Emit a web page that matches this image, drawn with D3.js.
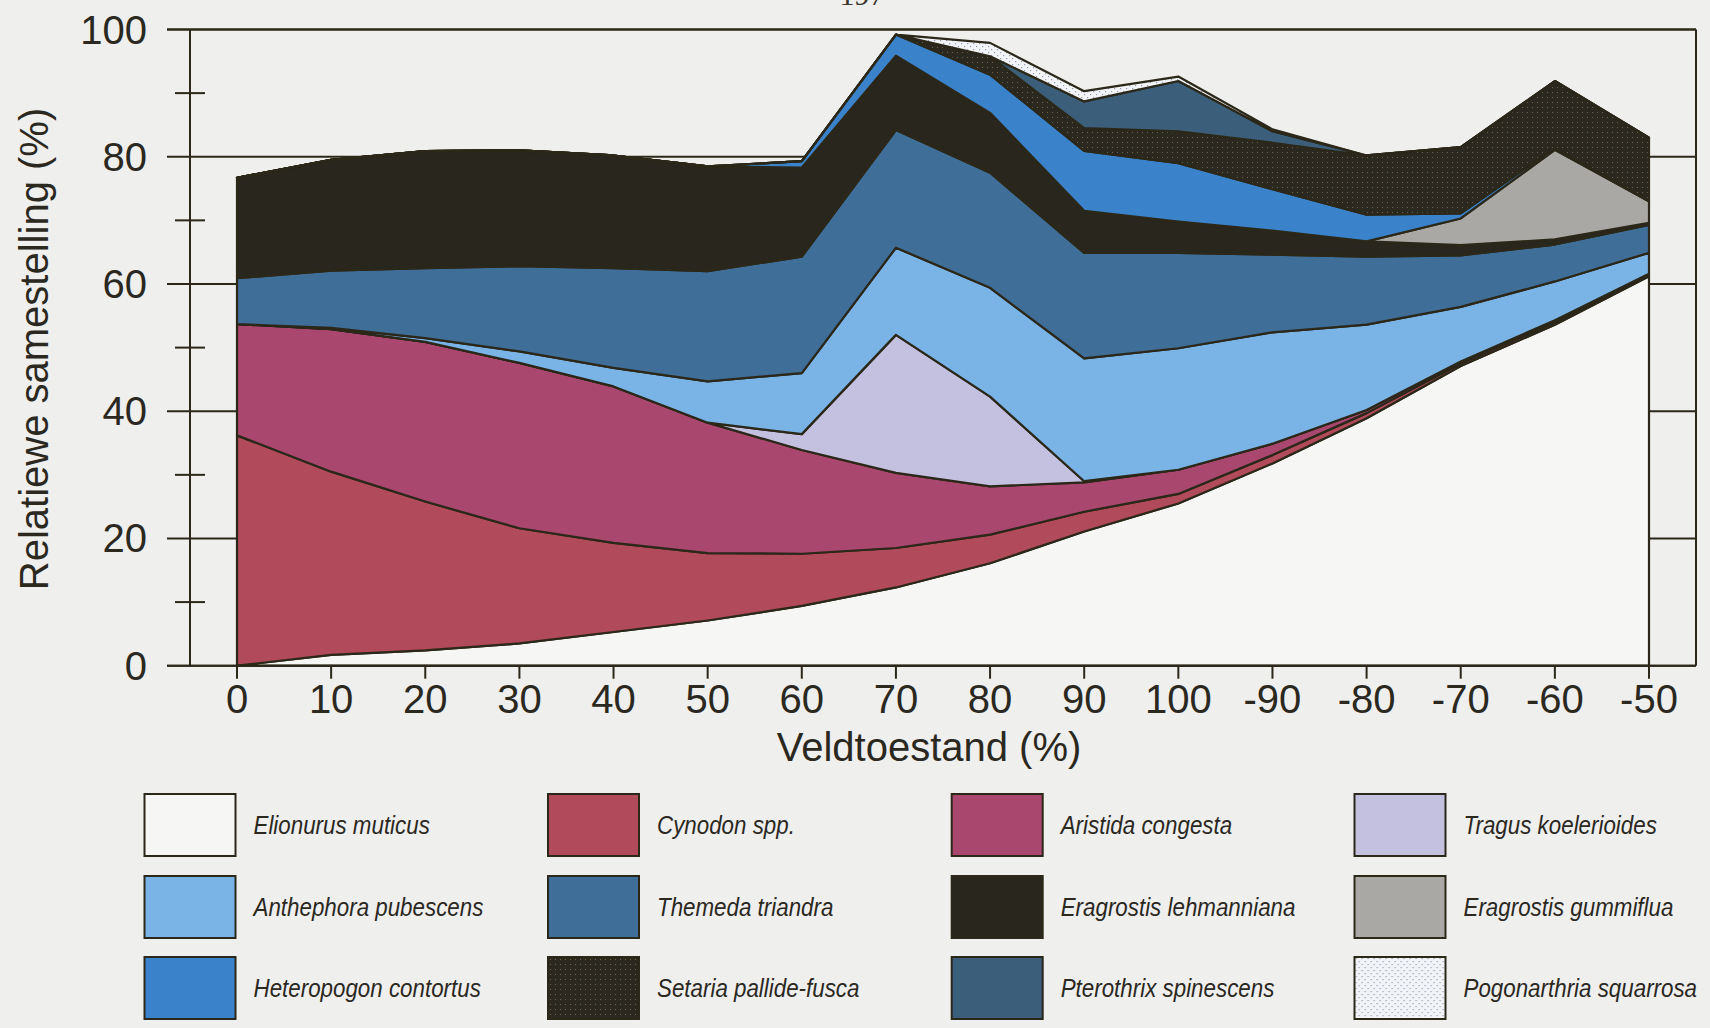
<!DOCTYPE html>
<html><head><meta charset="utf-8">
<script src="https://cdn.jsdelivr.net/npm/d3@7"></script>
<style>html,body{margin:0;padding:0;background:#efefed;} svg{display:block;}</style>
</head><body><svg id="chart" width="1710" height="1028"></svg>
<script>
// ---- data ----
const categories = ["0","10","20","30","40","50","60","70","80","90","100","-90","-80","-70","-60","-50"];
const yTicks = [0,20,40,60,80,100];
const yMinorTicks = [10,30,50,70,90];
const species = ["Elionurus muticus","Cynodon spp.","Aristida congesta","Tragus koelerioides",
  "Anthephora pubescens","Themeda triandra","Eragrostis lehmanniana","Eragrostis gummiflua",
  "Heteropogon contortus","Setaria pallide-fusca","Pterothrix spinescens","Pogonarthria squarrosa"];
const elionurus    = [0, 1.7, 2.4, 3.5, 5.3, 7.1, 9.4, 12.3, 16.1, 21.1, 25.5, 31.8, 38.9, 47.1, 53.6, 61.2];
const cynodon      = [36.2, 28.8, 23.4, 18.1, 14.0, 10.6, 8.2, 6.2, 4.5, 3.1, 1.5, 1.3, 0.8, 0.4, 0.4, 0.2];
const aristida     = [17.5, 22.4, 25.1, 26.0, 24.6, 20.5, 16.3, 11.8, 7.6, 4.6, 3.8, 1.8, 0.5, 0.3, 0.3, 0.2];
const tragus       = [0, 0, 0, 0, 0, 0, 2.5, 21.7, 14.1, 0.2, 0, 0, 0, 0, 0, 0];
const anthephora   = [0, 0.2, 0.6, 1.8, 2.9, 6.5, 9.6, 13.7, 17.1, 19.3, 19.1, 17.5, 13.4, 8.6, 6.1, 3.3];
const themeda      = [7.2, 9.0, 11.0, 13.4, 15.7, 17.3, 18.3, 18.5, 18.1, 16.6, 15.0, 12.2, 10.7, 8.1, 5.8, 4.4];
const lehmanniana  = [15.8, 17.4, 18.4, 18.2, 17.7, 16.5, 14.0, 11.7, 9.4, 6.6, 4.9, 3.8, 2.4, 1.6, 0.8, 0.3];
const gummiflua    = [0, 0, 0, 0, 0, 0, 0, 0, 0, 0, 0, 0, 0, 4.2, 14.1, 3.4];
const heteropogon  = [0, 0, 0, 0, 0, 0, 1.0, 3.3, 6.0, 9.4, 9.2, 6.5, 4.2, 0.8, 0.3, 0];
const setaria      = [0, 0, 0, 0, 0, 0, 0, 0, 2.9, 3.6, 5.0, 7.3, 9.3, 10.4, 10.5, 10.0];
const pterothrix   = [0, 0, 0, 0, 0, 0, 0, 0, 0, 4.2, 7.9, 1.8, 0, 0, 0, 0];
const pogonarthria = [0, 0, 0, 0, 0, 0, 0, 0, 2.1, 1.6, 0.7, 0.3, 0, 0, 0, 0];
const seriesValues = [elionurus, cynodon, aristida, tragus, anthephora, themeda, lehmanniana,
  gummiflua, heteropogon, setaria, pterothrix, pogonarthria];
const xTitle = "Veldtoestand (%)";
const yTitle = "Relatiewe samestelling (%)";
const pageNumber = "197";

// ---- styles ----
const fills = ["#f6f6f4","#b14a5b","#a9476f","#c3c0e0","#7ab4e6","#3f6e98","#29271d",
  "#a9a8a4","#3a82c9","url(#dotsDark)","#3b5f7a","url(#dotsLight)"];
const ink = "#2b2719";

const svg = d3.select("#chart");
svg.append("rect").attr("width",1710).attr("height",1028).attr("fill","#efefed");

const defs = svg.append("defs");
const pd = defs.append("pattern").attr("id","dotsDark").attr("patternUnits","userSpaceOnUse")
  .attr("width",5).attr("height",5);
pd.append("rect").attr("width",5).attr("height",5).attr("fill","#2b291f");
pd.append("rect").attr("x",2).attr("y",2).attr("width",1).attr("height",1).attr("fill","#6e624c");
const pl = defs.append("pattern").attr("id","dotsLight").attr("patternUnits","userSpaceOnUse")
  .attr("width",6).attr("height",6);
pl.append("rect").attr("width",6).attr("height",6).attr("fill","#f3f4f7");
pl.append("rect").attr("x",1).attr("y",1).attr("width",1.2).attr("height",1.2).attr("fill","#8f9cb4");
pl.append("rect").attr("x",4).attr("y",4).attr("width",1.2).attr("height",1.2).attr("fill","#8f9cb4");

const x = d3.scalePoint().domain(categories).range([237, 1649]);
const y = d3.scaleLinear().domain([0,100]).range([665.7, 29.5]);
const frameL = 190, frameR = 1696;

// gridlines (major ticks) behind areas
svg.append("g").selectAll("line").data(yTicks).join("line")
  .attr("x1",167).attr("x2",frameR).attr("y1",d=>y(d)).attr("y2",d=>y(d))
  .attr("stroke",ink).attr("stroke-width",2);

// stacked areas
const rows = categories.map((c,i)=>{const r={cat:c}; species.forEach((s,k)=>r[s]=seriesValues[k][i]); return r;});
const stacked = d3.stack().keys(species)(rows);
const area = d3.area().x(d=>x(d.data.cat)).y0(d=>y(d[0])).y1(d=>y(d[1])).curve(d3.curveLinear);
svg.append("g").selectAll("path").data(stacked).join("path")
  .attr("d",area).attr("fill",(d,i)=>fills[i])
  .attr("stroke",ink).attr("stroke-width",2.2).attr("stroke-linejoin","round");

// frame / axes
const ax = svg.append("g").attr("stroke",ink).attr("stroke-width",2);
ax.append("line").attr("x1",frameL).attr("x2",frameL).attr("y1",y(100)).attr("y2",y(0));
ax.append("line").attr("x1",frameR).attr("x2",frameR).attr("y1",y(100)).attr("y2",y(0));
ax.append("line").attr("x1",167).attr("x2",frameR).attr("y1",y(0)).attr("y2",y(0));
ax.append("line").attr("x1",167).attr("x2",frameR).attr("y1",y(100)).attr("y2",y(100));
ax.selectAll(".minor").data(yMinorTicks).join("line").attr("class","minor")
  .attr("x1",175).attr("x2",205).attr("y1",d=>y(d)).attr("y2",d=>y(d));
ax.selectAll(".xt").data(categories).join("line").attr("class","xt")
  .attr("x1",d=>x(d)).attr("x2",d=>x(d)).attr("y1",y(0)).attr("y2",y(0)+13);

const font = "'Liberation Sans', Arial, sans-serif";
svg.append("g").selectAll("text").data(yTicks).join("text")
  .attr("x",147).attr("y",d=>y(d)+14).attr("text-anchor","end")
  .attr("font-family",font).attr("font-size",40).attr("fill","#2a281f").text(d=>d);
svg.append("g").selectAll("text").data(categories).join("text")
  .attr("x",d=>x(d)).attr("y",713).attr("text-anchor","middle")
  .attr("font-family",font).attr("font-size",40).attr("fill","#2a281f").text(d=>d);
svg.append("text").attr("x",929).attr("y",761).attr("text-anchor","middle")
  .attr("font-family",font).attr("font-size",40).attr("fill","#2a281f").text(xTitle);
svg.append("text").attr("transform","translate(48,349) rotate(-90)").attr("text-anchor","middle")
  .attr("font-family",font).attr("font-size",40).attr("fill","#2a281f").text(yTitle);
svg.append("text").attr("x",862).attr("y",5).attr("text-anchor","middle")
  .attr("font-family","'Liberation Serif', serif").attr("font-size",30).attr("fill","#3a3630").text(pageNumber);

// legend
const colX = [144.5, 548, 951.7, 1354.5], rowY = [794, 876, 957];
const lg = svg.append("g").selectAll("g").data(species).join("g")
  .attr("transform",(d,i)=>`translate(${colX[i%4]},${rowY[Math.floor(i/4)]})`);
lg.append("rect").attr("width",91).attr("height",62).attr("fill",(d,i)=>fills[i])
  .attr("stroke",ink).attr("stroke-width",2);
lg.append("text").attr("transform","translate(109,40.3) scale(0.86,1)")
  .attr("font-family",font).attr("font-style","italic")
  .attr("font-size",26).attr("fill","#2a281f").text(d=>d);
</script></body></html>
